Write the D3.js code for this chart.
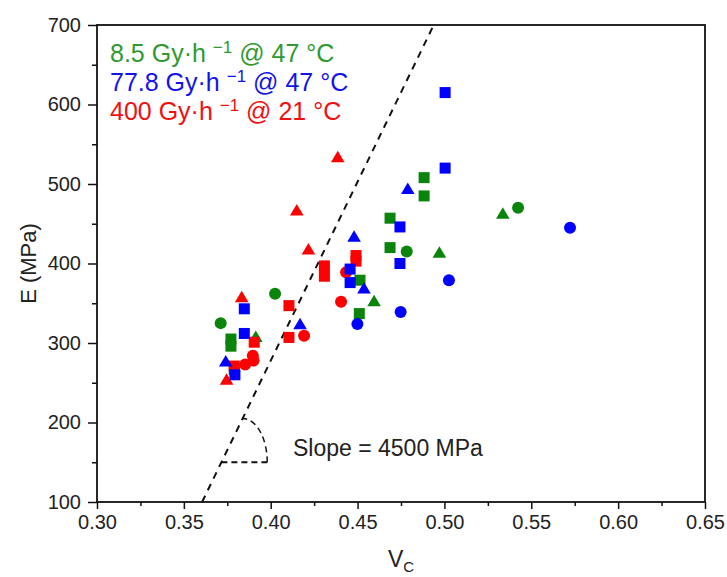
<!DOCTYPE html>
<html><head><meta charset="utf-8">
<script src="https://cdn.jsdelivr.net/npm/d3@7"></script>
<style>body{margin:0;background:#fff}svg{display:block}</style>
</head><body>
<script>
// ---- data ----
const seriesNames = ["8.5 Gy·h", "77.8 Gy·h", "400 Gy·h"];
const seriesSuffix = [" @ 47 °C", " @ 47 °C", " @ 21 °C"];
const seriesMarkerColors = ["#0a840a", "#0000ff", "#ff0000"];
const seriesTextColors = ["#2f9a2f", "#1414e6", "#f01010"];
// [Vc, E (MPa), shape]
const dose8_5 = [
  [0.379, 267, "square"], [0.3771, 305, "square"], [0.3771, 296, "square"],
  [0.4514, 379, "square"], [0.451, 337, "square"], [0.4687, 457, "square"],
  [0.4687, 420, "square"], [0.4883, 508, "square"], [0.4883, 485, "square"],
  [0.3712, 325, "circle"], [0.4025, 362, "circle"], [0.4783, 415, "circle"], [0.5424, 470, "circle"],
  [0.3914, 308, "triangle"], [0.4595, 353, "triangle"], [0.4971, 414, "triangle"], [0.5336, 463, "triangle"]
];
const dose77_8 = [
  [0.3794, 260, "square"], [0.3848, 343, "square"], [0.3848, 312, "square"],
  [0.4457, 393, "square"], [0.4457, 376, "square"], [0.4744, 446, "square"],
  [0.4744, 400, "square"], [0.5004, 520, "square"], [0.5004, 615, "square"],
  [0.4499, 324, "circle"], [0.4748, 339, "circle"], [0.5026, 379, "circle"], [0.5723, 445, "circle"],
  [0.3741, 277, "triangle"], [0.4169, 324, "triangle"], [0.448, 434, "triangle"],
  [0.4537, 369, "triangle"], [0.4789, 494, "triangle"]
];
const dose400 = [
  [0.379, 271, "square"], [0.3905, 301, "square"], [0.4105, 347, "square"], [0.4105, 307, "square"],
  [0.4309, 397, "square"], [0.4309, 384, "square"], [0.4491, 410, "square"], [0.4491, 403, "square"],
  [0.3897, 284, "circle"], [0.3901, 278, "circle"], [0.3853, 273, "circle"],
  [0.4192, 309, "circle"], [0.4405, 352, "circle"], [0.4434, 389, "circle"],
  [0.3746, 254, "triangle"], [0.3833, 358, "triangle"], [0.415, 467, "triangle"],
  [0.4217, 418, "triangle"], [0.4386, 534, "triangle"]
];
const drawOrder = [0, 2, 1]; // green, red, blue
const seriesData = [dose8_5, dose77_8, dose400];
const xTicks = [0.30, 0.35, 0.40, 0.45, 0.50, 0.55, 0.60, 0.65];
const xMinorTicks = [0.325, 0.375, 0.425, 0.475, 0.525, 0.575, 0.625];
const yTicks = [100, 200, 300, 400, 500, 600, 700];
const yMinorTicks = [150, 250, 350, 450, 550, 650];
// guide line: E = 100 at Vc0, slope 4500 MPa
const slopeMPa = 4500;
const guideVc0 = 0.3605;
const guideE = [100, 700];
const slopeCornerE = 150, slopeEndVc = 0.398, slopeArcE = 205;
const slopeLabel = "Slope = 4500 MPa";

// ---- chart ----
const W = 727, H = 577;
const mL = 97, mR = 705, mT = 25, mB = 502;
const font = "'Liberation Sans', Arial, Helvetica, sans-serif";
const svg = d3.select("body").append("svg").attr("width", W).attr("height", H)
  .style("font-family", font);

const x = d3.scaleLinear().domain([0.30, 0.65]).range([mL, mR]);
const y = d3.scaleLinear().domain([100, 700]).range([mB, mT]);

// axes
const xa = svg.append("g").attr("transform", `translate(0,${mB})`)
  .call(d3.axisBottom(x).tickValues(xTicks).tickFormat(d3.format(".2f")).tickSize(7).tickPadding(6));
const xm = svg.append("g").attr("transform", `translate(0,${mB})`)
  .call(d3.axisBottom(x).tickValues(xMinorTicks).tickFormat("").tickSize(4));
const ya = svg.append("g").attr("transform", `translate(${mL},0)`)
  .call(d3.axisLeft(y).tickValues(yTicks).tickFormat(d3.format("d")).tickSize(9).tickPadding(7));
const ym = svg.append("g").attr("transform", `translate(${mL},0)`)
  .call(d3.axisLeft(y).tickValues(yMinorTicks).tickFormat("").tickSize(5));
[xa, xm, ya, ym].forEach(g => {
  g.select(".domain").remove();
  g.selectAll(".tick line").attr("stroke", "#111").attr("stroke-width", 1.5);
  g.selectAll(".tick text").attr("fill", "#222").style("font-size", "20px").style("font-family", font);
});
svg.append("rect").attr("x", mL).attr("y", mT).attr("width", mR - mL).attr("height", mB - mT)
  .attr("fill", "none").attr("stroke", "#111").attr("stroke-width", 1.8);

// axis titles
svg.append("text").attr("transform", `translate(36,${(mT + mB) / 2}) rotate(-90)`)
  .attr("text-anchor", "middle").attr("fill", "#222").style("font-size", "22px").text("E (MPa)");
const xt = svg.append("text").attr("x", (mL + mR) / 2).attr("y", 567)
  .attr("text-anchor", "middle").attr("fill", "#222").style("font-size", "23px");
xt.append("tspan").text("V");
xt.append("tspan").attr("dy", 5).style("font-size", "15px").text("C");

// guide dashed line
const plot = svg.append("g");
const vcAt = e => guideVc0 + (e - 100) / slopeMPa;
plot.append("line")
  .attr("x1", x(vcAt(guideE[0]))).attr("y1", y(guideE[0]))
  .attr("x2", x(vcAt(guideE[1]))).attr("y2", y(guideE[1]))
  .attr("stroke", "#111").attr("stroke-width", 2).attr("stroke-dasharray", "7,6");
// slope triangle
plot.append("line")
  .attr("x1", x(vcAt(slopeCornerE))).attr("y1", y(slopeCornerE))
  .attr("x2", x(slopeEndVc)).attr("y2", y(slopeCornerE))
  .attr("stroke", "#111").attr("stroke-width", 1.8).attr("stroke-dasharray", "6,4");
const ax1 = x(slopeEndVc), ay1 = y(slopeCornerE), ax2 = x(vcAt(slopeArcE)), ay2 = y(slopeArcE);
plot.append("path")
  .attr("d", `M${ax1},${ay1} A${ax1 - ax2},${ay1 - ay2} 0 0 0 ${ax2},${ay2}`)
  .attr("fill", "none").attr("stroke", "#111").attr("stroke-width", 1.5).attr("stroke-dasharray", "6,4");
plot.append("text").attr("x", 293).attr("y", y(slopeCornerE) - 6)
  .attr("fill", "#222").style("font-size", "23px").text(slopeLabel);

// markers
function drawMarker(g, d, color) {
  const cx = x(d[0]), cy = y(d[1]);
  if (d[2] === "square") {
    g.append("rect").attr("x", cx - 5.5).attr("y", cy - 5.5).attr("width", 11).attr("height", 11).attr("fill", color);
  } else if (d[2] === "circle") {
    g.append("circle").attr("cx", cx).attr("cy", cy).attr("r", 6).attr("fill", color);
  } else {
    g.append("path").attr("d", `M${cx},${cy - 6.2} L${cx + 6.8},${cy + 5.3} L${cx - 6.8},${cy + 5.3} Z`).attr("fill", color);
  }
}
drawOrder.forEach(i => {
  const g = plot.append("g");
  seriesData[i].forEach(d => drawMarker(g, d, seriesMarkerColors[i]));
});

// legend
seriesNames.forEach((name, i) => {
  const t = svg.append("text").attr("x", 110).attr("y", 62 + i * 29)
    .attr("fill", seriesTextColors[i]).style("font-size", "25px");
  t.append("tspan").text(name + " ");
  t.append("tspan").attr("dy", -9).style("font-size", "17px").text("−1");
  t.append("tspan").attr("dy", 9).text(seriesSuffix[i]);
});
</script>
</body></html>
